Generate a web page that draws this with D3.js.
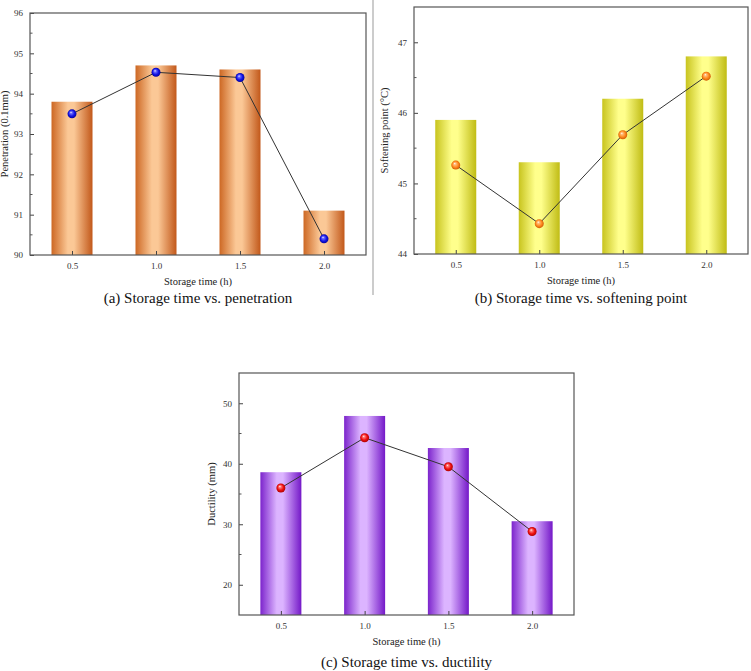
<!DOCTYPE html>
<html>
<head>
<meta charset="utf-8">
<script src="https://cdn.jsdelivr.net/npm/d3@7"></script>
<style>
  body { margin: 0; background: #fff; }
</style>
</head>
<body>
<div id="drawing"></div>
<script>
// storage time categories
var times = [0.5, 1.0, 1.5, 2.0];
var timeLabels = ["0.5", "1.0", "1.5", "2.0"];

// (a) penetration
var penBars = [93.8, 94.7, 94.6, 91.1];
var penPoints = [93.5, 94.53, 94.4, 90.4];
var penTicks = [90, 91, 92, 93, 94, 95, 96];

// (b) softening point
var softBars = [45.9, 45.3, 46.2, 46.8];
var softPoints = [45.26, 44.43, 45.69, 46.52];
var softTicks = [44, 45, 46, 47];

// (c) ductility
var ductBars = [38.6, 47.9, 42.6, 30.5];
var ductPoints = [36.0, 44.3, 39.5, 28.8];
var ductTicks = [20, 30, 40, 50];

var width = 751;
var height = 671;
var serif = "'Liberation Serif', 'Times New Roman', serif";

var svg = d3.select("#drawing").append("svg")
  .attr("width", width)
  .attr("height", height)
  .style("font-family", serif);

var defs = svg.append("defs");

// bar gradient: dark edges, light middle
function barGradient(id, edgeL, mid, edgeR) {
  var g = defs.append("linearGradient").attr("id", id)
    .attr("x1", "0%").attr("x2", "100%").attr("y1", "0%").attr("y2", "0%");
  g.append("stop").attr("offset", "0%").attr("stop-color", edgeL);
  g.append("stop").attr("offset", "40%").attr("stop-color", mid);
  g.append("stop").attr("offset", "55%").attr("stop-color", mid);
  g.append("stop").attr("offset", "100%").attr("stop-color", edgeR);
}
barGradient("gOrange", "#cd6824", "#fbc896", "#c2581a");
barGradient("gYellow", "#c8c41e", "#ffff8c", "#c0bc14");
barGradient("gPurple", "#7c24cc", "#dcb4ff", "#7418c8");

// ball markers
function ballGradient(id, light, body, dark) {
  var g = defs.append("radialGradient").attr("id", id)
    .attr("cx", "50%").attr("cy", "50%").attr("r", "55%")
    .attr("fx", "38%").attr("fy", "32%");
  g.append("stop").attr("offset", "0%").attr("stop-color", "#ffffff");
  g.append("stop").attr("offset", "20%").attr("stop-color", light);
  g.append("stop").attr("offset", "60%").attr("stop-color", body);
  g.append("stop").attr("offset", "100%").attr("stop-color", dark);
}
ballGradient("bBlue", "#6f6fff", "#1414e6", "#00008c");
ballGradient("bOrange", "#ffc080", "#ff8a1e", "#c85000");
ballGradient("bRed", "#ff8080", "#f01010", "#a00000");

function drawPanel(cfg) {
  var g = svg.append("g").attr("transform", `translate(${cfg.left}, ${cfg.top})`);
  var w = cfg.w, h = cfg.h;

  var x = d3.scaleLinear().domain([0.25, 2.25]).range([0, w]);
  var y = d3.scaleLinear().domain(cfg.yDomain).range([h, 0]);
  var barW = 41;

  g.selectAll("rect.bar")
    .data(cfg.bars)
    .join("rect")
    .attr("class", "bar")
    .attr("x", (d, i) => x(times[i]) - barW / 2)
    .attr("y", d => y(d))
    .attr("width", barW)
    .attr("height", d => h - y(d))
    .attr("fill", `url(#${cfg.barFill})`);

  // y axis, ticks inside
  var yAxis = d3.axisLeft(y).tickValues(cfg.yTicks).tickSize(-4).tickPadding(7)
    .tickFormat(d3.format("d"));
  var ya = g.append("g").call(yAxis).attr("font-family", serif);
  ya.select(".domain").remove();
  ya.selectAll("line").attr("stroke", "#444");
  ya.selectAll("text").attr("font-size", 9).attr("fill", "#333");

  // minor y ticks
  g.selectAll("line.minor")
    .data(cfg.yMinor)
    .join("line")
    .attr("x1", 0).attr("x2", 2.5)
    .attr("y1", d => y(d)).attr("y2", d => y(d))
    .attr("stroke", "#555");

  var xAxis = d3.axisBottom(x).tickValues(times).tickSize(-4).tickPadding(8)
    .tickFormat((d, i) => timeLabels[i]);
  var xa = g.append("g").attr("transform", `translate(0, ${h})`).call(xAxis)
    .attr("font-family", serif);
  xa.select(".domain").remove();
  xa.selectAll("line").attr("stroke", "#444");
  xa.selectAll("text").attr("font-size", 9).attr("fill", "#333");

  // frame
  g.append("rect").attr("x", 0).attr("y", 0).attr("width", w).attr("height", h)
    .attr("fill", "none").attr("stroke", "#555").attr("stroke-width", 1.2);

  var line = d3.line().x((d, i) => x(times[i])).y(d => y(d));
  g.append("path")
    .attr("d", line(cfg.points))
    .attr("fill", "none")
    .attr("stroke", "#333")
    .attr("stroke-width", 1);

  g.selectAll("circle.pt")
    .data(cfg.points)
    .join("circle")
    .attr("class", "pt")
    .attr("cx", (d, i) => x(times[i]))
    .attr("cy", d => y(d))
    .attr("r", 4.5)
    .attr("fill", `url(#${cfg.ball})`);

  g.append("text")
    .attr("x", w / 2).attr("y", h + 30)
    .attr("text-anchor", "middle")
    .attr("font-family", serif)
    .attr("font-size", 10.5)
    .attr("fill", "#222")
    .text("Storage time (h)");

  g.append("text")
    .attr("transform", `translate(${cfg.yTitleX}, ${h / 2}) rotate(-90)`)
    .attr("text-anchor", "middle")
    .attr("font-family", serif)
    .attr("font-size", 10.5)
    .attr("fill", "#222")
    .text(cfg.yTitle);

  g.append("text")
    .attr("x", w / 2).attr("y", h + cfg.captionDy)
    .attr("text-anchor", "middle")
    .attr("font-family", serif)
    .attr("font-size", 15)
    .attr("fill", "#111")
    .text(cfg.caption);
}

drawPanel({
  left: 30, top: 13, w: 336, h: 242,
  yDomain: [90, 96], yTicks: penTicks, yMinor: d3.range(90.5, 96, 1),
  bars: penBars, points: penPoints,
  barFill: "gOrange", ball: "bBlue",
  yTitle: "Penetration (0.1mm)", yTitleX: -22,
  caption: "(a) Storage time vs. penetration", captionDy: 48
});

drawPanel({
  left: 414, top: 7, w: 334, h: 247,
  yDomain: [44, 47.5], yTicks: softTicks, yMinor: d3.range(44.5, 47.5, 1),
  bars: softBars, points: softPoints,
  barFill: "gYellow", ball: "bOrange",
  yTitle: "Softening point (\u00B0C)", yTitleX: -26,
  caption: "(b) Storage time vs. softening point", captionDy: 49
});

drawPanel({
  left: 239, top: 373, w: 335, h: 242,
  yDomain: [15, 55], yTicks: ductTicks, yMinor: d3.range(25, 55, 10),
  bars: ductBars, points: ductPoints,
  barFill: "gPurple", ball: "bRed",
  yTitle: "Ductility (mm)", yTitleX: -24,
  caption: "(c) Storage time vs. ductility", captionDy: 52
});

// divider between (a) and (b)
svg.append("line")
  .attr("x1", 373).attr("x2", 373)
  .attr("y1", 0).attr("y2", 295)
  .attr("stroke", "#999").attr("stroke-width", 1);
</script>
</body>
</html>
